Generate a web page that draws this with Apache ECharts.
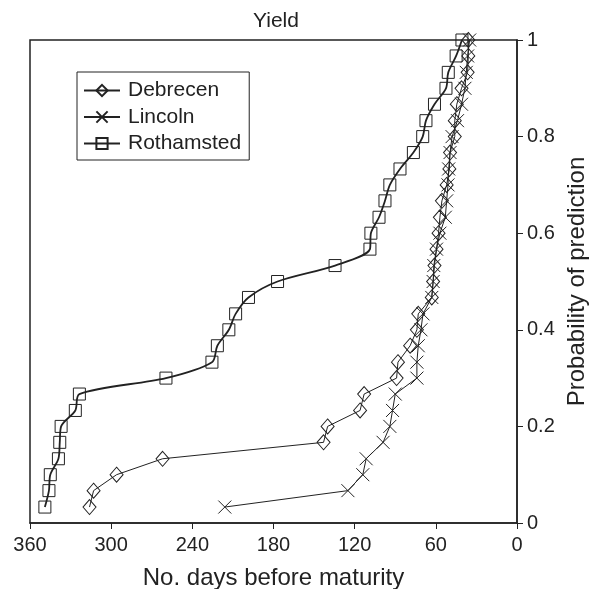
<!DOCTYPE html>
<html>
<head>
<meta charset="utf-8">
<script src="https://cdn.jsdelivr.net/npm/echarts@6/dist/echarts.min.js"></script>
<style>
  html, body { margin: 0; padding: 0; background: #fff; }
  #chart { width: 592px; height: 589px; }
</style>
</head>
<body>
<div id="chart"></div>
<script>
// probability levels (y), shared by all three sites
var probs = [0.033, 0.067, 0.1, 0.133, 0.167, 0.2, 0.233, 0.267, 0.3, 0.333,
  0.367, 0.4, 0.433, 0.467, 0.5, 0.533, 0.567, 0.6, 0.633, 0.667,
  0.7, 0.733, 0.767, 0.8, 0.833, 0.867, 0.9, 0.933, 0.967, 1]

// days before maturity (x)
var debrecen = [316, 313, 296, 262, 143, 140, 116, 113, 89, 88,
  79, 74, 73, 63, 62, 61, 59.5, 58, 57, 55.5,
  52, 50, 49.5, 46, 46, 44.5, 41, 36.5, 36, 36]
var lincoln = [216, 125, 114, 111.5, 99, 94, 92, 90, 74, 74,
  73, 71, 69.5, 63, 62, 61.5, 59.5, 57, 53, 52,
  51, 50.5, 49.5, 48, 44, 41, 38.5, 37.5, 36.5, 35]
var rothamsted = [349, 346, 345, 339, 338, 337, 326.5, 323.5, 259.5, 225.5,
  221.5, 213, 208, 198.5, 177, 134.5, 108.7, 108, 102, 97.6,
  94, 86.5, 76.6, 69.7, 67.3, 61, 52.5, 50.8, 45, 40.7]

var xTicks = [0, 60, 120, 180, 240, 300, 360]
var seriesNames = ['Debrecen', 'Lincoln', 'Rothamsted']

var ink = '#222'
var font = 'Liberation Sans'

function pairs(days) {
  return days.map(function (d, i) { return [d, probs[i]] })
}

var chart = echarts.init(document.getElementById('chart'))

chart.setOption({
  animation: false,
  backgroundColor: '#fff',
  textStyle: { fontFamily: font, color: ink },
  title: {
    text: 'Yield',
    left: 253,
    top: 11,
    padding: 0,
    textStyle: { fontFamily: font, fontSize: 21, fontWeight: 'normal', color: ink }
  },
  grid: {
    left: 30,
    right: 75,
    top: 40,
    bottom: 66,
    outerBoundsMode: 'none',
    show: true,
    borderColor: ink,
    borderWidth: 1.5
  },
  legend: {
    data: seriesNames,
    orient: 'vertical',
    left: 77,
    top: 72,
    padding: [8, 8, 6, 6],
    itemGap: 5.5,
    itemWidth: 36,
    itemHeight: 14,
    borderColor: ink,
    borderWidth: 1,
    textStyle: { fontFamily: font, fontSize: 21, lineHeight: 21, color: ink, padding: [0, 0, 0, 3] }
  },
  xAxis: {
    type: 'value',
    inverse: true,
    min: 0,
    max: 360,
    interval: 60,
    name: 'No. days before maturity',
    nameLocation: 'middle',
    nameGap: 43,
    nameTextStyle: { fontFamily: font, fontSize: 24, color: ink },
    axisLine: { show: true, lineStyle: { color: ink, width: 1.5 } },
    axisTick: { show: true, inside: false, length: 6, lineStyle: { color: ink } },
    axisLabel: {
      margin: 12,
      fontFamily: font,
      fontSize: 20,
      color: ink,
      formatter: function (v) { return xTicks.indexOf(v) >= 0 ? v : '' }
    },
    splitLine: { show: false }
  },
  yAxis: {
    type: 'value',
    position: 'right',
    min: 0,
    max: 1,
    interval: 0.2,
    name: 'Probability of prediction',
    nameLocation: 'middle',
    nameRotate: 90,
    nameGap: 48,
    nameTextStyle: { fontFamily: font, fontSize: 24, color: ink },
    axisLine: { show: true, lineStyle: { color: ink, width: 1.5 } },
    axisTick: { show: true, inside: false, length: 6, lineStyle: { color: ink } },
    axisLabel: { margin: 10, fontFamily: font, fontSize: 20, color: ink },
    splitLine: { show: false }
  },
  series: [
    {
      name: 'Debrecen',
      type: 'line',
      data: pairs(debrecen),
      symbol: 'diamond',
      symbolSize: [13, 15],
      itemStyle: { color: 'rgba(0,0,0,0)', borderColor: ink, borderWidth: 1 },
      lineStyle: { color: ink, width: 1 },
      z: 3
    },
    {
      name: 'Lincoln',
      type: 'line',
      data: pairs(lincoln),
      symbol: 'path://M0,0L10,10M10,0L0,10',
      symbolSize: 13,
      itemStyle: { color: 'rgba(0,0,0,0)', borderColor: ink, borderWidth: 1 },
      lineStyle: { color: ink, width: 1 },
      z: 3
    },
    {
      name: 'Rothamsted',
      type: 'line',
      data: pairs(rothamsted),
      smooth: 0.3,
      symbol: 'rect',
      symbolSize: 12,
      itemStyle: { color: 'rgba(0,0,0,0)', borderColor: ink, borderWidth: 1 },
      lineStyle: { color: ink, width: 1.8 },
      z: 4
    }
  ]
})
</script>
</body>
</html>
